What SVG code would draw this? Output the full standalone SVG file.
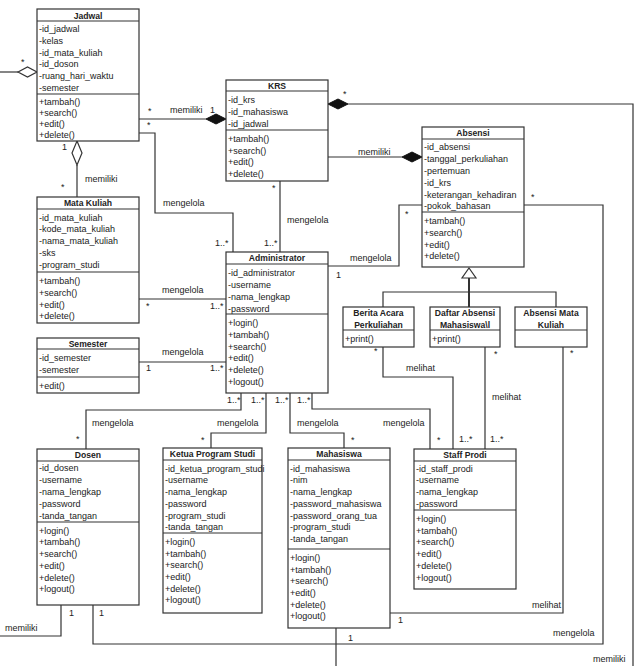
<svg xmlns="http://www.w3.org/2000/svg" width="639" height="666" viewBox="0 0 639 666">
<style>
.box{fill:#fff;stroke:#333;stroke-width:1.2}
.ln{fill:none;stroke:#333;stroke-width:1.2}
text{font-family:"Liberation Sans",Arial,sans-serif;font-size:9px;fill:#222}
.t{font-weight:bold;text-anchor:middle;font-size:8.6px}
.fd{fill:#111;stroke:#111;stroke-width:1}
.hd{fill:#fff;stroke:#333;stroke-width:1.2}
</style>
<rect width="639" height="666" fill="#fff"/>

<g id="connectors">
<path class="ln" d="M0 72H18"/>
<polygon class="hd" points="18,72 27.5,67 37,72 27.5,77"/>
<text x="21" y="65">*</text>
<path class="ln" d="M139 119H206"/>
<polygon class="fd" points="206,119 216,114 226,119 216,124"/>
<text x="148" y="114">*</text>
<text x="170" y="113">memiliki</text>
<text x="210" y="113">1</text>
<path class="ln" d="M139 133H155V213H233V252"/>
<text x="147" y="128">*</text>
<text x="163" y="206">mengelola</text>
<text x="215" y="246">1..*</text>
<path class="ln" d="M280 181V252"/>
<text x="272" y="191">*</text>
<text x="287" y="223">mengelola</text>
<text x="264" y="246">1..*</text>
<polygon class="fd" points="328,104 338,99 348,104 338,109"/>
<path class="ln" d="M348 104H633V666"/>
<text x="343" y="97">*</text>
<text x="593" y="662">memiliki</text>
<path class="ln" d="M328 157H402"/>
<polygon class="fd" points="402,157 412,152 422,157 412,162"/>
<text x="358" y="155">memiliki</text>
<path class="ln" d="M422 205H399V266H328"/>
<text x="405" y="217">*</text>
<text x="350" y="261">mengelola</text>
<text x="336" y="278">1</text>
<polygon class="hd" points="77,141 82,153 77,165 72,153"/>
<path class="ln" d="M77 165V197"/>
<text x="62" y="150">1</text>
<text x="61" y="190">*</text>
<text x="85" y="182">memiliki</text>
<path class="ln" d="M139 299H226"/>
<text x="162" y="293">mengelola</text>
<text x="146" y="309">*</text>
<text x="210" y="309">1..*</text>
<path class="ln" d="M139 362H226"/>
<text x="162" y="355">mengelola</text>
<text x="146" y="371">1</text>
<text x="210" y="371">1..*</text>
<path class="ln" d="M383 307V292H556V307"/>
<path d="M469 278V307" stroke="#333" stroke-width="2" fill="none"/>
<polygon class="hd" points="469,268 476,278 462,278"/>
<path class="ln" d="M383 347V377H453V449"/>
<text x="374" y="354">*</text>
<text x="406" y="371">melihat</text>
<text x="459" y="442">1..*</text>
<path class="ln" d="M485 347V449"/>
<text x="494" y="357">*</text>
<text x="492" y="400">melihat</text>
<text x="490" y="442">1..*</text>
<path class="ln" d="M563 347V613H390"/>
<text x="570" y="356">*</text>
<text x="532" y="608">melihat</text>
<text x="398" y="623">1</text>
<path class="ln" d="M524 205H603V644H93V605"/>
<text x="531" y="200">*</text>
<text x="553" y="636">mengelola</text>
<text x="99" y="616">1</text>
<path class="ln" d="M61 605V636H0"/>
<text x="69" y="616">1</text>
<text x="5" y="631">memiliki</text>
<path class="ln" d="M336 628V666"/>
<text x="348" y="641">1</text>
<path class="ln" d="M241 393V410H86V449"/>
<text x="92" y="426">mengelola</text>
<text x="76" y="442">*</text>
<text x="227" y="403">1..*</text>
<path class="ln" d="M266 393V433H211V448"/>
<text x="217" y="426">mengelola</text>
<text x="201" y="443">*</text>
<text x="251" y="403">1..*</text>
<path class="ln" d="M290 393V433H344V448"/>
<text x="297" y="426">mengelola</text>
<text x="351" y="443">*</text>
<text x="275" y="403">1..*</text>
<path class="ln" d="M312 393V409H430V449"/>
<text x="383" y="426">mengelola</text>
<text x="437" y="443">*</text>
<text x="297" y="403">1..*</text>
</g>

<g id="jadwal">
<rect class="box" x="37" y="9" width="102" height="132"/>
<path class="ln" d="M37 21H139M37 94H139"/>
<text class="t" x="88" y="19">Jadwal</text>
<text x="39" y="32">-id_jadwal</text>
<text x="39" y="44">-kelas</text>
<text x="39" y="56">-id_mata_kuliah</text>
<text x="39" y="67">-id_doson</text>
<text x="39" y="79">-ruang_hari_waktu</text>
<text x="39" y="91">-semester</text>
<text x="39" y="105">+tambah()</text>
<text x="39" y="116">+search()</text>
<text x="39" y="127">+edit()</text>
<text x="39" y="138">+delete()</text>
</g>

<g id="krs">
<rect class="box" x="226" y="80" width="102" height="101"/>
<path class="ln" d="M226 91H328M226 130H328"/>
<text class="t" x="277" y="89">KRS</text>
<text x="228" y="103">-id_krs</text>
<text x="228" y="115">-id_mahasiswa</text>
<text x="228" y="127">-id_jadwal</text>
<text x="228" y="142">+tambah()</text>
<text x="228" y="154">+search()</text>
<text x="228" y="165">+edit()</text>
<text x="228" y="177">+delete()</text>
</g>

<g id="absensi">
<rect class="box" x="422" y="127" width="102" height="140"/>
<path class="ln" d="M422 139H524M422 212H524"/>
<text class="t" x="473" y="136">Absensi</text>
<text x="424" y="150">-id_absensi</text>
<text x="424" y="162">-tanggal_perkuliahan</text>
<text x="424" y="174">-pertemuan</text>
<text x="424" y="186">-id_krs</text>
<text x="424" y="198">-keterangan_kehadiran</text>
<text x="424" y="209">-pokok_bahasan</text>
<text x="424" y="224">+tambah()</text>
<text x="424" y="236">+search()</text>
<text x="424" y="248">+edit()</text>
<text x="424" y="259">+delete()</text>
</g>

<g id="mata-kuliah">
<rect class="box" x="37" y="197" width="102" height="126"/>
<path class="ln" d="M37 209H139M37 272H139"/>
<text class="t" x="88" y="206">Mata Kuliah</text>
<text x="39" y="221">-id_mata_kuliah</text>
<text x="39" y="232">-kode_mata_kuliah</text>
<text x="39" y="244">-nama_mata_kuliah</text>
<text x="39" y="256">-sks</text>
<text x="39" y="268">-program_studi</text>
<text x="39" y="284">+tambah()</text>
<text x="39" y="296">+search()</text>
<text x="39" y="308">+edit()</text>
<text x="39" y="319">+delete()</text>
</g>

<g id="administrator">
<rect class="box" x="226" y="252" width="102" height="141"/>
<path class="ln" d="M226 264H328M226 314H328"/>
<text class="t" x="277" y="261">Administrator</text>
<text x="228" y="276">-id_administrator</text>
<text x="228" y="288">-username</text>
<text x="228" y="300">-nama_lengkap</text>
<text x="228" y="312">-password</text>
<text x="228" y="326">+login()</text>
<text x="228" y="338">+tambah()</text>
<text x="228" y="350">+search()</text>
<text x="228" y="361">+edit()</text>
<text x="228" y="373">+delete()</text>
<text x="228" y="385">+logout()</text>
</g>

<g id="semester">
<rect class="box" x="37" y="338" width="102" height="55"/>
<path class="ln" d="M37 349H139M37 377H139"/>
<text class="t" x="88" y="347">Semester</text>
<text x="39" y="361">-id_semester</text>
<text x="39" y="373">-semester</text>
<text x="39" y="389">+edit()</text>
</g>

<g id="berita-acara">
<rect class="box" x="343" y="307" width="71" height="40"/>
<path class="ln" d="M343 330H414"/>
<text class="t" x="378.5" y="316">Berita Acara</text>
<text class="t" x="378.5" y="328">Perkuliahan</text>
<text x="345" y="342">+print()</text>
</g>

<g id="daftar-absensi">
<rect class="box" x="430" y="307" width="70" height="40"/>
<path class="ln" d="M430 330H500"/>
<text class="t" x="465" y="316">Daftar Absensi</text>
<text class="t" x="465" y="328">Mahasiswa\l</text>
<text x="432" y="342">+print()</text>
</g>

<g id="absensi-mata-kuliah">
<rect class="box" x="515" y="307" width="72" height="40"/>
<path class="ln" d="M515 330H587"/>
<text class="t" x="551" y="316">Absensi Mata</text>
<text class="t" x="551" y="328">Kuliah</text>
</g>

<g id="dosen">
<rect class="box" x="37" y="449" width="102" height="156"/>
<path class="ln" d="M37 461H139M37 522H139"/>
<text class="t" x="88" y="458">Dosen</text>
<text x="39" y="471">-id_dosen</text>
<text x="39" y="483">-username</text>
<text x="39" y="495">-nama_lengkap</text>
<text x="39" y="507">-password</text>
<text x="39" y="519">-tanda_tangan</text>
<text x="39" y="534">+login()</text>
<text x="39" y="545">+tambah()</text>
<text x="39" y="557">+search()</text>
<text x="39" y="569">+edit()</text>
<text x="39" y="581">+delete()</text>
<text x="39" y="592">+logout()</text>
</g>

<g id="ketua-program-studi">
<rect class="box" x="163" y="448" width="99" height="165"/>
<path class="ln" d="M163 460H262M163 533H262"/>
<text class="t" x="212.5" y="457">Ketua Program Studi</text>
<text x="165" y="472">-id_ketua_program_studi</text>
<text x="165" y="483">-username</text>
<text x="165" y="495">-nama_lengkap</text>
<text x="165" y="507">-password</text>
<text x="165" y="519">-program_studi</text>
<text x="165" y="530">-tanda_tangan</text>
<text x="165" y="545">+login()</text>
<text x="165" y="557">+tambah()</text>
<text x="165" y="568">+search()</text>
<text x="165" y="580">+edit()</text>
<text x="165" y="592">+delete()</text>
<text x="165" y="603">+logout()</text>
</g>

<g id="mahasiswa">
<rect class="box" x="288" y="448" width="102" height="180"/>
<path class="ln" d="M288 460H390M288 549H390"/>
<text class="t" x="339" y="457">Mahasiswa</text>
<text x="290" y="472">-id_mahasiswa</text>
<text x="290" y="483">-nim</text>
<text x="290" y="495">-nama_lengkap</text>
<text x="290" y="507">-password_mahasiswa</text>
<text x="290" y="519">-password_orang_tua</text>
<text x="290" y="530">-program_studi</text>
<text x="290" y="542">-tanda_tangan</text>
<text x="290" y="561">+login()</text>
<text x="290" y="573">+tambah()</text>
<text x="290" y="584">+search()</text>
<text x="290" y="596">+edit()</text>
<text x="290" y="608">+delete()</text>
<text x="290" y="619">+logout()</text>
</g>

<g id="staff-prodi">
<rect class="box" x="414" y="449" width="102" height="140"/>
<path class="ln" d="M414 461H516M414 510H516"/>
<text class="t" x="465" y="458">Staff Prodi</text>
<text x="416" y="472">-id_staff_prodi</text>
<text x="416" y="483">-username</text>
<text x="416" y="495">-nama_lengkap</text>
<text x="416" y="507">-password</text>
<text x="416" y="522">+login()</text>
<text x="416" y="534">+tambah()</text>
<text x="416" y="545">+search()</text>
<text x="416" y="557">+edit()</text>
<text x="416" y="569">+delete()</text>
<text x="416" y="581">+logout()</text>
</g>
</svg>
